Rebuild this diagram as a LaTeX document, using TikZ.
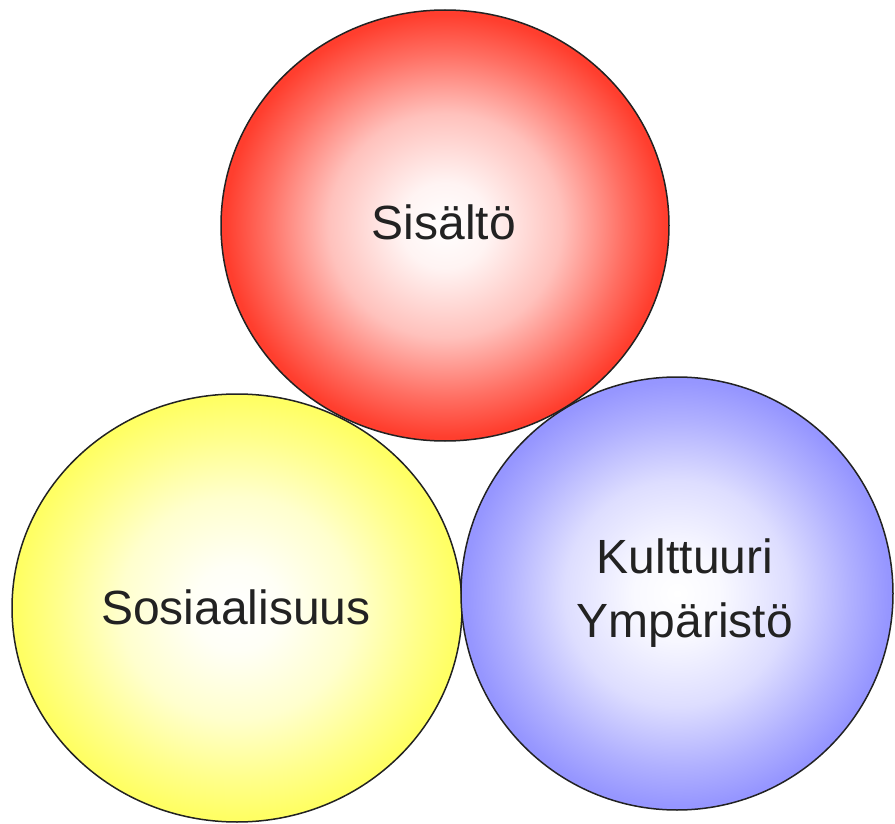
\documentclass[tikz,border=0pt]{standalone}
\usepackage{fontspec}
\setmainfont{Liberation Sans}
\definecolor{cred}{RGB}{255,62,46}
\definecolor{cyellow}{RGB}{255,255,100}
\definecolor{cblue}{RGB}{150,150,255}
\definecolor{cline}{RGB}{34,34,34}
\pgfdeclareradialshading{redglow}{\pgfpoint{0bp}{0bp}}{color(0bp)=(white); color(5bp)=(cred!6!white); color(13bp)=(cred!32!white); color(20bp)=(cred!75!white); color(24.5bp)=(cred); color(50bp)=(cred)}
\pgfdeclareradialshading{yellowglow}{\pgfpoint{0bp}{0bp}}{color(0bp)=(white); color(5bp)=(cyellow!6!white); color(13bp)=(cyellow!32!white); color(20bp)=(cyellow!75!white); color(24.5bp)=(cyellow); color(50bp)=(cyellow)}
\pgfdeclareradialshading{blueglow}{\pgfpoint{0bp}{0bp}}{color(0bp)=(white); color(5bp)=(cblue!6!white); color(13bp)=(cblue!32!white); color(20bp)=(cblue!75!white); color(24.5bp)=(cblue); color(50bp)=(cblue)}
\begin{document}
\begin{tikzpicture}[x=1pt,y=-1pt,
  bubble/.style={draw=cline,line width=1.5pt},
  lbl/.style={text=cline,font=\fontsize{48}{64}\selectfont,align=center,inner sep=0pt}]
\useasboundingbox (0,0) rectangle (895,824);
\shade[bubble,shading=yellowglow] (237,608) ellipse [x radius=225,y radius=214];
\shade[bubble,shading=blueglow] (677,593.5) ellipse [x radius=216,y radius=216.5];
\shade[bubble,shading=redglow] (445,225.5) ellipse [x radius=224,y radius=215.5];
\node[lbl] (sis) at (444,222) {Sisältö};
\node[lbl] (sos) at (236,607) {Sosiaalisuus};
\node[lbl] (kul) at (685,593) {Kulttuuri\\Ympäristö};
\end{tikzpicture}
\end{document}
